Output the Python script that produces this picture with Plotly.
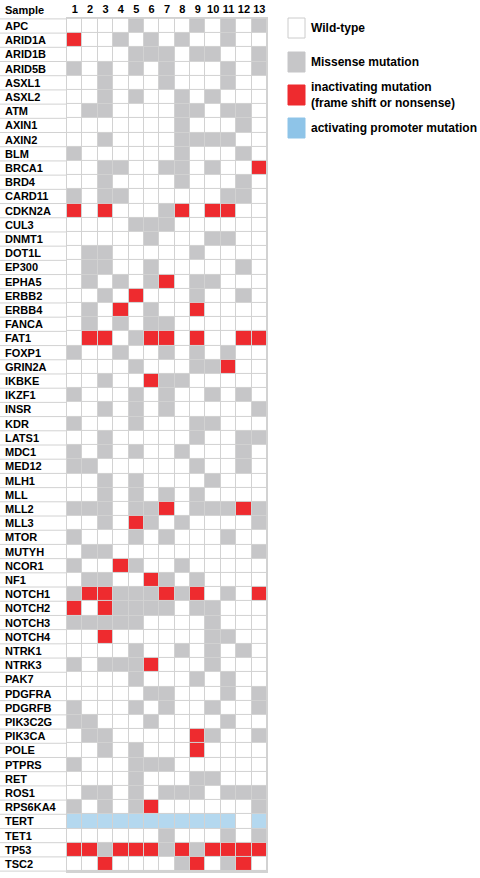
import plotly.graph_objects as go

# sample columns and gene rows
samples = [str(i) for i in range(1, 14)]
genes = ["APC", "ARID1A", "ARID1B", "ARID5B", "ASXL1", "ASXL2", "ATM", "AXIN1",
         "AXIN2", "BLM", "BRCA1", "BRD4", "CARD11", "CDKN2A", "CUL3", "DNMT1",
         "DOT1L", "EP300", "EPHA5", "ERBB2", "ERBB4", "FANCA", "FAT1", "FOXP1",
         "GRIN2A", "IKBKE", "IKZF1", "INSR", "KDR", "LATS1", "MDC1", "MED12",
         "MLH1", "MLL", "MLL2", "MLL3", "MTOR", "MUTYH", "NCOR1", "NF1",
         "NOTCH1", "NOTCH2", "NOTCH3", "NOTCH4", "NTRK1", "NTRK3", "PAK7",
         "PDGFRA", "PDGRFB", "PIK3C2G", "PIK3CA", "POLE", "PTPRS", "RET",
         "ROS1", "RPS6KA4", "TERT", "TET1", "TP53", "TSC2"]

# 0 wild-type, 1 missense, 2 inactivating, 3 activating promoter (samples 1..13)
calls = ["0000100010101", "2001010100100", "0000111011001", "1010101000101",
         "0010001000100", "0010100101000", "0110000110110", "0000000100010",
         "0010000111100", "1000000100010", "0011001101002", "0010000100010",
         "1011000000110", "2020001202200", "0000111000000", "0000010001100",
         "0110000010000", "0110010000010", "0101012011000", "0010200010010",
         "0102010020000", "0101011000000", "0220122020022", "1001001010100",
         "0000100011200", "0010021100000", "1000101001010", "0010101000001",
         "1000100011000", "0010000010011", "1010100100010", "1100000010010",
         "0010100001000", "0010101010000", "1110112011121", "0010210100001",
         "1000101000100", "0110000000001", "1002100100000", "0110021010000",
         "1221112120102", "2021111011000", "1111100001000", "0020000001100",
         "0000100101010", "1011120001000", "0000100010100", "0000011000101",
         "1000101001001", "1100010000100", "0110000021001", "0010100020000",
         "1000111000000", "0000100011000", "0110101110111", "1010120000001",
         "3333333333303", "0000001000101", "2212221212222", "0020000120120"]

legend_labels = ["Wild-type", "Missense mutation",
                 "inactivating mutation<br>(frame shift or nonsense)",
                 "activating promoter mutation"]
legend_colors = ["white", "#c6c6c8", "#ee2b2f", "#8ec4e8"]

cell_colors = ["white", "#c6c6c8", "#ee2b2f", "#b4d8ef"]
line_col = "#d2d2d2"
font_fam = "Liberation Sans, Arial, sans-serif"

z = [[int(c) for c in row] for row in calls]

W, H = 480, 878
top, bottom = 18, 6
x0_px, x1_px = 67, 267

scale = [[0, cell_colors[0]], [1/6, cell_colors[0]],
         [1/6, cell_colors[1]], [0.5, cell_colors[1]],
         [0.5, cell_colors[2]], [5/6, cell_colors[2]],
         [5/6, cell_colors[3]], [1, cell_colors[3]]]

fig = go.Figure(go.Heatmap(
    z=z, x=samples, y=genes,
    zmin=0, zmax=3, colorscale=scale, showscale=False,
    xgap=1, ygap=1, hoverinfo="skip"))

# row separators running under the gene labels
shapes = []
for i in range(len(genes) + 1):
    shapes.append(dict(type="line", xref="paper", yref="y",
                       x0=0, x1=x0_px / W, y0=i - 0.5, y1=i - 0.5,
                       line=dict(color=line_col, width=1)))

annotations = [dict(text="<b>Sample</b>", xref="paper", yref="paper",
                    x=3 / W, y=1, xanchor="left", yanchor="bottom",
                    showarrow=False, font=dict(family=font_fam, size=11, color="black"))]
for g in genes:
    annotations.append(dict(text="<b>%s</b>" % g, xref="paper", yref="y",
                            x=3 / W, y=g, xanchor="left", yanchor="middle",
                            showarrow=False,
                            font=dict(family=font_fam, size=11, color="black")))

# legend boxes and texts
plot_h = H - top - bottom
box_tops = [18, 52, 85, 118]
for k, (lab, col) in enumerate(zip(legend_labels, legend_colors)):
    yt = box_tops[k]
    shapes.append(dict(type="rect", xref="paper", yref="paper",
                       x0=288 / W, x1=305 / W,
                       y0=(H - bottom - (yt + 20)) / plot_h,
                       y1=(H - bottom - yt) / plot_h,
                       fillcolor=col,
                       line=dict(color="#cccccc" if k == 0 else col, width=1)))
    annotations.append(dict(text="<b>%s</b>" % lab, xref="paper", yref="paper",
                            x=309 / W, y=(H - bottom - (yt + 10)) / plot_h,
                            xanchor="left", yanchor="middle", align="left",
                            showarrow=False,
                            font=dict(family=font_fam, size=12, color="black")))

fig.update_layout(
    width=W, height=H,
    margin=dict(l=0, r=0, t=top, b=bottom),
    paper_bgcolor="white",
    plot_bgcolor=line_col,
    shapes=shapes,
    annotations=annotations,
    xaxis=dict(domain=[x0_px / W, x1_px / W], side="top",
               tickvals=samples, ticktext=["<b>%s</b>" % s for s in samples],
               tickfont=dict(family=font_fam, size=11, color="black"),
               showgrid=False, zeroline=False, ticks="",
               showline=True, mirror=True, linecolor=line_col, linewidth=1),
    yaxis=dict(autorange="reversed", showticklabels=False,
               showgrid=False, zeroline=False, ticks="",
               showline=True, mirror=True, linecolor=line_col, linewidth=1),
)

# drop the default page margin so the figure sits at the window's corner
fig.write_html("out.html", config={"displayModeBar": False},
               post_script="document.body.style.margin='0';")
